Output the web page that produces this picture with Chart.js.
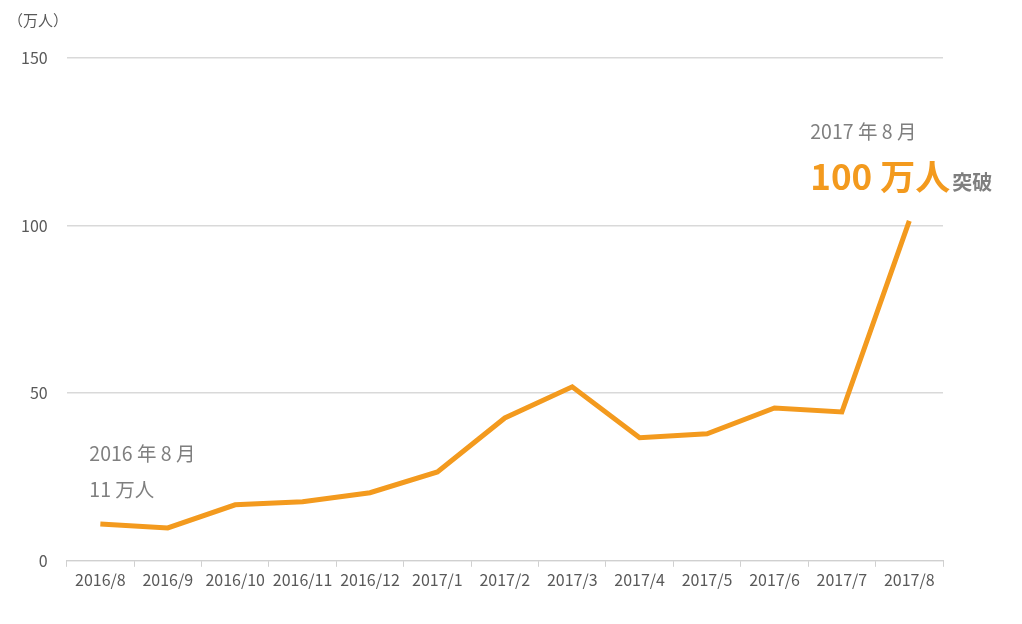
<!DOCTYPE html>
<html lang="ja">
<head>
    <meta charset="UTF-8">
    <script src="https://cdn.jsdelivr.net/npm/chart.js"></script>
    <title>ユーザー数推移</title>
    <style>
        body { margin: 0; background: #fff; }
    </style>
</head>
<body>
    <canvas id="myChart" width="1022" height="624"></canvas>

<script>
    // data block
    const months = ['2016/8', '2016/9', '2016/10', '2016/11', '2016/12', '2017/1', '2017/2',
                    '2017/3', '2017/4', '2017/5', '2017/6', '2017/7', '2017/8'];
    const users = [11, 9.8, 16.7, 17.6, 20.3, 26.5, 42.6, 51.9, 36.7, 37.9, 45.6, 44.4, 101.4];
    const yTicks = [0, 50, 100, 150];

    const font = '"Noto Sans CJK JP", "Noto Sans", sans-serif';
    const orange = '#F39A1E';
    const gray = '#7f7f7f';

    // annotations drawn on the canvas
    const notes = {
        id: 'notes',
        afterDraw(chart) {
            const ctx = chart.ctx;
            const x = chart.scales.x;
            ctx.save();
            ctx.textBaseline = 'alphabetic';
            ctx.textAlign = 'left';

            ctx.fillStyle = '#595959';
            ctx.font = '15px ' + font;
            ctx.fillText('（万人）', 8, 26);

            // first point
            const x0 = x.getPixelForValue(0) - 11;
            ctx.fillStyle = gray;
            ctx.font = '19.5px ' + font;
            ctx.fillText('2016 年 8 月', x0, 461);
            ctx.fillText('11 万人', x0, 497);

            // last point
            const x1 = x.getPixelForValue(months.length - 1) - 99;
            ctx.fillText('2017 年 8 月', x1, 139);
            ctx.fillStyle = orange;
            ctx.font = 'bold 35px ' + font;
            ctx.fillText('100 万人', x1, 190);
            const w = ctx.measureText('100 万人').width;
            ctx.fillStyle = gray;
            ctx.font = 'bold 20px ' + font;
            ctx.fillText('突破', x1 + w + 2, 190);
            ctx.restore();
        }
    };

    const config = {
      type: 'line',
      data: {
        labels: months,
        datasets: [{
          data: users,
          borderColor: orange,
          borderWidth: 5,
          pointRadius: 0,
          tension: 0,
          fill: false
        }]
      },
      options: {
        responsive: false,
        animation: false,
        layout: { padding: { left: 2, right: 79, top: 58, bottom: 30 } },
        plugins: { legend: { display: false }, tooltip: { enabled: false } },
        scales: {
          x: {
            offset: true,
            grid: { drawOnChartArea: false, drawTicks: true, tickLength: 6, color: '#d0d0d0', offset: true },
            border: { color: '#d0d0d0', width: 1 },
            ticks: { color: '#595959', font: { family: font, size: 16 }, padding: 4, maxRotation: 0, autoSkip: false }
          },
          y: {
            min: 0,
            max: 150,
            afterBuildTicks: axis => { axis.ticks = yTicks.map(v => ({ value: v })); },
            grid: { color: '#d9d9d9', lineWidth: 1.5, drawTicks: false },
            border: { display: false },
            ticks: { color: '#595959', font: { family: font, size: 16 }, padding: 19 }
          }
        }
      },
      plugins: [notes]
    };

    const myChart = new Chart(document.getElementById('myChart'), config);
</script>
</body>
</html>
